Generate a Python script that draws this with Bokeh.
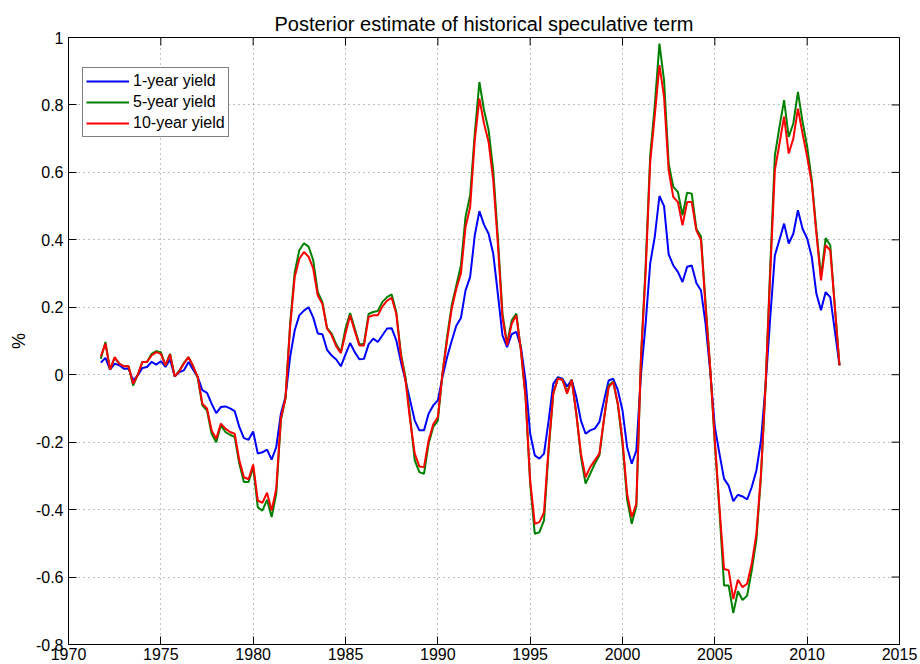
import numpy as np
from bokeh.plotting import figure
from bokeh.models import Range1d, FixedTicker, Legend, LegendItem
from bokeh.embed import file_html
from bokeh.resources import INLINE

FONT = "Liberation Sans"

# quarterly observations, 1971Q4 .. 2011Q4
start_year = 1971.75
n_quarters = 161
dates = start_year + 0.25 * np.arange(n_quarters)

yield_1y = [
    0.036, 0.05, 0.015, 0.033, 0.028, 0.018, 0.018, -0.017, -0.002, 0.02,
    0.023, 0.038, 0.03, 0.04, 0.023, 0.045, -0.005, 0.008, 0.013, 0.038,
    0.015, -0.007, -0.046, -0.054, -0.086, -0.114, -0.096, -0.094, -0.1, -0.108,
    -0.155, -0.188, -0.193, -0.168, -0.234, -0.23, -0.222, -0.252, -0.215, -0.116,
    -0.066, 0.052, 0.132, 0.176, 0.19, 0.2, 0.17, 0.122, 0.12, 0.074,
    0.057, 0.045, 0.025, 0.06, 0.094, 0.067, 0.046, 0.047, 0.09, 0.107,
    0.097, 0.117, 0.137, 0.138, 0.102, 0.038, -0.017, -0.076, -0.136, -0.165,
    -0.165, -0.116, -0.091, -0.076, -0.007, 0.052, 0.1, 0.145, 0.168, 0.25,
    0.29, 0.413, 0.485, 0.445, 0.418, 0.359, 0.24, 0.117, 0.082, 0.12,
    0.127, 0.082, -0.017, -0.175, -0.239, -0.249, -0.234, -0.136, -0.027, -0.007,
    -0.012, -0.035, -0.015, -0.066, -0.136, -0.175, -0.165, -0.16, -0.14, -0.076,
    -0.017, -0.012, -0.046, -0.106, -0.215, -0.264, -0.225, 0.0, 0.15, 0.33,
    0.41, 0.53, 0.5, 0.357, 0.324, 0.305, 0.275, 0.32, 0.324, 0.272,
    0.25, 0.15, 0.01, -0.155, -0.234, -0.309, -0.329, -0.375, -0.356, -0.361,
    -0.37, -0.333, -0.284, -0.195, -0.03, 0.17, 0.354, 0.4, 0.448, 0.389,
    0.418, 0.488, 0.433, 0.404, 0.349, 0.24, 0.191, 0.245, 0.23, 0.13,
    0.028,
]

yield_5y = [
    0.047, 0.097, 0.015, 0.05, 0.033, 0.025, 0.025, -0.032, 0.0, 0.038,
    0.038, 0.062, 0.07, 0.067, 0.028, 0.062, -0.005, 0.012, 0.035, 0.052,
    0.025, -0.01, -0.091, -0.106, -0.175, -0.2, -0.15, -0.17, -0.178, -0.185,
    -0.264, -0.318, -0.318, -0.274, -0.393, -0.403, -0.371, -0.422, -0.353, -0.135,
    -0.07, 0.15, 0.305, 0.369, 0.39, 0.38, 0.34, 0.245, 0.215, 0.139,
    0.122, 0.09, 0.067, 0.137, 0.183, 0.137, 0.09, 0.092, 0.18, 0.186,
    0.189, 0.216, 0.23, 0.238, 0.186, 0.062, -0.007, -0.126, -0.254, -0.289,
    -0.294, -0.205, -0.155, -0.136, 0.003, 0.112, 0.205, 0.265, 0.324, 0.468,
    0.532, 0.715, 0.868, 0.785, 0.725, 0.606, 0.408, 0.181, 0.092, 0.161,
    0.181, 0.072, -0.066, -0.323, -0.472, -0.467, -0.432, -0.225, -0.056, -0.01,
    -0.015, -0.051, -0.015, -0.116, -0.244, -0.323, -0.294, -0.264, -0.239, -0.13,
    -0.032, -0.02, -0.09, -0.205, -0.37, -0.442, -0.39, 0.05, 0.32, 0.65,
    0.8, 0.982, 0.873, 0.626, 0.557, 0.542, 0.473, 0.54, 0.537, 0.433,
    0.41, 0.21, 0.02, -0.205, -0.403, -0.625, -0.625, -0.707, -0.642, -0.668,
    -0.655, -0.58, -0.49, -0.3, -0.03, 0.32, 0.65, 0.735, 0.814, 0.705,
    0.745, 0.839, 0.75, 0.676, 0.577, 0.428, 0.29, 0.405, 0.384, 0.2,
    0.028,
]

yield_10y = [
    0.054, 0.092, 0.015, 0.052, 0.033, 0.025, 0.025, -0.027, 0.0, 0.038,
    0.038, 0.057, 0.067, 0.062, 0.028, 0.06, -0.005, 0.01, 0.033, 0.052,
    0.025, -0.007, -0.086, -0.1, -0.165, -0.19, -0.145, -0.16, -0.17, -0.175,
    -0.254, -0.304, -0.31, -0.266, -0.373, -0.38, -0.35, -0.403, -0.338, -0.13,
    -0.07, 0.141, 0.29, 0.344, 0.364, 0.35, 0.315, 0.235, 0.21, 0.137,
    0.117, 0.084, 0.064, 0.122, 0.176, 0.13, 0.087, 0.087, 0.171, 0.176,
    0.176, 0.203, 0.22, 0.228, 0.181, 0.057, -0.017, -0.136, -0.234, -0.272,
    -0.274, -0.195, -0.147, -0.126, 0.003, 0.102, 0.195, 0.255, 0.3, 0.438,
    0.497, 0.695, 0.819, 0.745, 0.69, 0.577, 0.389, 0.171, 0.087, 0.151,
    0.176, 0.072, -0.066, -0.314, -0.442, -0.437, -0.408, -0.215, -0.056, -0.012,
    -0.015, -0.056, -0.015, -0.116, -0.234, -0.304, -0.274, -0.254, -0.234, -0.13,
    -0.037, -0.022, -0.086, -0.195, -0.353, -0.422, -0.383, 0.05, 0.3, 0.63,
    0.77, 0.918, 0.824, 0.606, 0.527, 0.512, 0.443, 0.512, 0.512, 0.428,
    0.4, 0.2, 0.02, -0.195, -0.393, -0.576, -0.58, -0.665, -0.608, -0.63,
    -0.62, -0.56, -0.472, -0.294, -0.03, 0.3, 0.606, 0.685, 0.765, 0.656,
    0.7, 0.789, 0.715, 0.646, 0.567, 0.418, 0.28, 0.384, 0.369, 0.2,
    0.028,
]

series_labels = ["1-year yield", "5-year yield", "10-year yield"]
series_colors = ["#0000FF", "#008000", "#FF0000"]

x_min, x_max = 1970, 2015
y_min, y_max = -0.8, 1.0
x_ticks = [1970, 1975, 1980, 1985, 1990, 1995, 2000, 2005, 2010, 2015]
x_tick_labels = ["1970", "1975", "1980", "1985", "1990", "1995", "2000", "2005", "2010", "2015"]
y_ticks = [-0.8, -0.6, -0.4, -0.2, 0.0, 0.2, 0.4, 0.6, 0.8, 1.0]
y_tick_labels = ["-0.8", "-0.6", "-0.4", "-0.2", "0", "0.2", "0.4", "0.6", "0.8", "1"]

p = figure(
    width=920, height=664,
    output_backend="svg", toolbar_location=None,
    x_range=Range1d(x_min, x_max), y_range=Range1d(y_min, y_max),
    min_border_left=68, min_border_right=21, min_border_top=37, min_border_bottom=20,
    title="Posterior estimate of historical speculative term",
)
p.background_fill_color = "white"
p.border_fill_color = "white"
p.outline_line_color = "black"
p.outline_line_width = 1

p.title.text_font = FONT
p.title.text_font_size = "20px"
p.title.text_font_style = "normal"
p.title.text_color = "black"
p.title.align = "center"
p.title.standoff = 6

p.xaxis.ticker = FixedTicker(ticks=x_ticks)
p.xaxis.major_label_overrides = {t: s for t, s in zip(x_ticks, x_tick_labels)}
p.yaxis.ticker = FixedTicker(ticks=y_ticks)
p.yaxis.major_label_overrides = {t: s for t, s in zip(y_ticks, y_tick_labels)}

for ax in list(p.xaxis) + list(p.yaxis):
    ax.axis_line_color = "black"
    ax.axis_line_width = 1
    ax.major_tick_in = 8
    ax.major_tick_out = 0
    ax.major_tick_line_color = "black"
    ax.minor_tick_in = 0
    ax.minor_tick_out = 0
    ax.major_label_text_font = FONT
    ax.major_label_text_font_size = "16px"
    ax.major_label_text_color = "black"

p.xaxis.major_label_standoff = 3
p.yaxis.major_label_standoff = 5

p.yaxis.axis_label = "%"
p.yaxis.axis_label_text_font = FONT
p.yaxis.axis_label_text_font_size = "18px"
p.yaxis.axis_label_text_font_style = "normal"
p.yaxis.axis_label_text_color = "black"
p.yaxis.axis_label_standoff = 4

p.xgrid.ticker = FixedTicker(ticks=x_ticks)
p.ygrid.ticker = FixedTicker(ticks=y_ticks)
p.grid.grid_line_color = "#808080"
p.grid.grid_line_width = 1
p.grid.grid_line_dash = "1 4"

# inward tick marks on the top and right edges of the box (clipped to the frame)
p.scatter(x_ticks, [y_max] * len(x_ticks), marker="dash", angle=np.pi / 2,
          size=16, line_color="black", line_width=1)
p.scatter([x_max] * len(y_ticks), y_ticks, marker="dash",
          size=16, line_color="black", line_width=1)

renderers = []
for vals, col in zip([yield_1y, yield_5y, yield_10y], series_colors):
    r = p.line(dates, vals, line_color=col, line_width=2)
    renderers.append(r)

legend = Legend(
    items=[LegendItem(label=lab, renderers=[r]) for lab, r in zip(series_labels, renderers)],
    location=(14, 507),
)
legend.label_text_font = FONT
legend.label_text_font_size = "16px"
legend.label_text_color = "black"
legend.glyph_width = 43
legend.glyph_height = 20
legend.label_height = 20
legend.label_standoff = 4
legend.spacing = 1
legend.padding = 3
legend.margin = 0
legend.border_line_color = "black"
legend.border_line_width = 1
legend.background_fill_color = "white"
legend.background_fill_alpha = 1.0
p.add_layout(legend)

open("out.html", "w").write(file_html(p, INLINE))
